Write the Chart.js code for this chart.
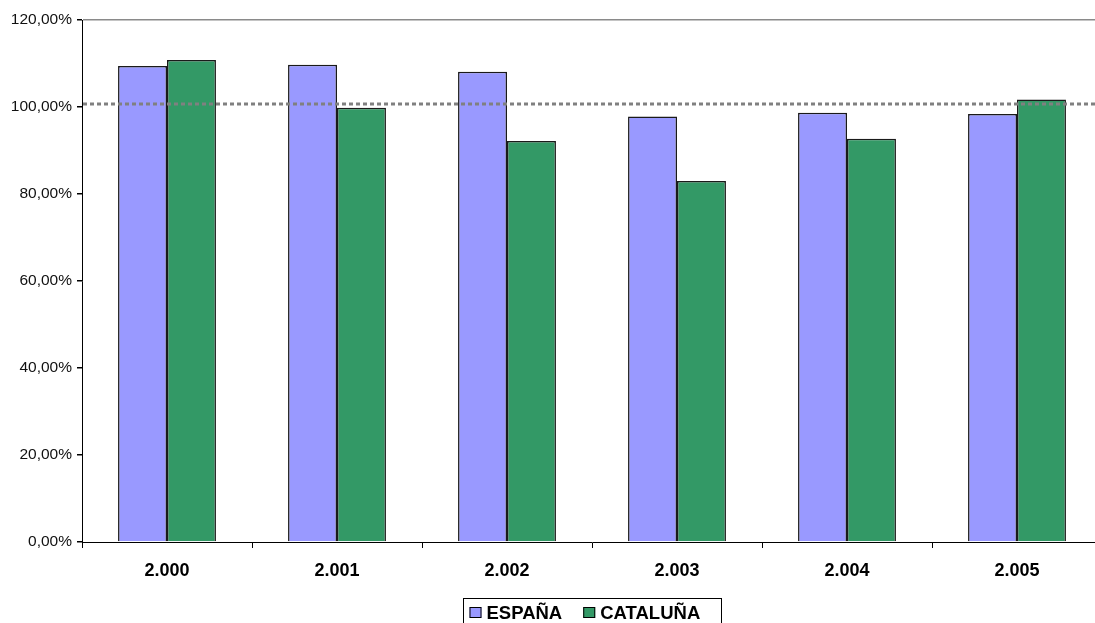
<!DOCTYPE html>
<html>
<head>
<meta charset="utf-8">
<title>España vs Cataluña</title>
<script src="https://cdn.jsdelivr.net/npm/chart.js@4/dist/chart.umd.min.js"></script>
<style>
    html, body { margin: 0; padding: 0; background: #fff; overflow: hidden; }
    #wrap { width: 1110px; height: 640px; }
</style>
</head>
<body>
<div id="wrap"><canvas id="ratioChart" width="1110" height="640"></canvas></div>
<script>
// Data
const years = ['2.000', '2.001', '2.002', '2.003', '2.004', '2.005'];
const espana = [109.4, 109.7, 108.1, 97.8, 98.7, 98.4];
const cataluna = [110.8, 99.8, 92.2, 83.0, 92.7, 101.7];
const yTickLabels = ['0,00%', '20,00%', '40,00%', '60,00%', '80,00%', '100,00%', '120,00%'];
const referenceLevel = 100.7;

const FONT = "'Liberation Sans', Arial, sans-serif";

// Dotted reference line across the plot
const refLinePlugin = {
    id: 'refLine',
    afterDatasetsDraw(chart) {
        const { ctx, chartArea, scales } = chart;
        const y = scales.y.getPixelForValue(referenceLevel);
        ctx.save();
        ctx.strokeStyle = '#808080';
        ctx.lineWidth = 3;
        ctx.setLineDash([4, 3]);
        ctx.beginPath();
        ctx.moveTo(chartArea.left + 1, y);
        ctx.lineTo(chartArea.right, y);
        ctx.stroke();
        ctx.restore();
    }
};

// Boxed legend under the axis
const boxLegendPlugin = {
    id: 'boxLegend',
    afterDraw(chart) {
        const { ctx, chartArea } = chart;
        const boxWidth = 258;
        const left = Math.round((chartArea.left + chartArea.right) / 2 - boxWidth / 2) + 0.5;
        const top = 598.5;
        ctx.save();
        ctx.strokeStyle = '#000';
        ctx.lineWidth = 1;
        ctx.strokeRect(left, top, boxWidth, 60);

        ctx.font = 'bold 18.5px ' + FONT;
        ctx.textBaseline = 'alphabetic';
        let x = left + 6;
        chart.data.datasets.forEach(ds => {
            ctx.fillStyle = ds.backgroundColor;
            ctx.fillRect(x, 607, 12, 11);
            ctx.strokeStyle = '#000';
            ctx.strokeRect(x + 0.5, 607.5, 11, 10);
            x += 17;
            ctx.fillStyle = '#000';
            ctx.fillText(ds.label, x, 619);
            x += ctx.measureText(ds.label).width + 21;
        });
        ctx.restore();
    }
};

function initializeChart() {
    const ctx = document.getElementById('ratioChart').getContext('2d');
    return new Chart(ctx, {
        type: 'bar',
        data: {
            labels: years,
            datasets: [{
                label: 'ESPAÑA',
                data: espana,
                backgroundColor: '#9999FF',
                borderColor: '#1a1a1a',
                borderWidth: 1.5
            }, {
                label: 'CATALUÑA',
                data: cataluna,
                backgroundColor: '#339966',
                borderColor: '#1a1a1a',
                borderWidth: 1.5
            }]
        },
        options: {
            responsive: false,
            animation: false,
            devicePixelRatio: 1,
            layout: { padding: { top: 20, right: 8, left: 0, bottom: 0 } },
            datasets: {
                bar: { categoryPercentage: 0.576, barPercentage: 1 }
            },
            plugins: {
                legend: { display: false },
                tooltip: { enabled: false }
            },
            scales: {
                x: {
                    offset: true,
                    afterFit: scale => { scale.height = 98; },
                    grid: {
                        offset: true,
                        drawOnChartArea: false,
                        tickLength: 6,
                        tickColor: '#000'
                    },
                    border: { color: '#000', width: 1 },
                    ticks: {
                        color: '#000',
                        padding: 12,
                        maxRotation: 0,
                        font: { family: FONT, size: 18, weight: 'bold' }
                    }
                },
                y: {
                    min: 0,
                    max: 120,
                    afterFit: scale => { scale.width = 82; },
                    grid: {
                        color: c => (c.tick && c.tick.value === 120 ? '#8a8a8a' : 'rgba(0,0,0,0)'),
                        lineWidth: 1.5,
                        tickLength: 5,
                        tickColor: '#000'
                    },
                    border: { color: '#000', width: 1 },
                    ticks: {
                        stepSize: 20,
                        padding: 5,
                        color: '#111',
                        font: { family: FONT, size: 15.5 },
                        callback: (value, index) => yTickLabels[index]
                    }
                }
            }
        },
        plugins: [refLinePlugin, boxLegendPlugin]
    });
}

initializeChart();
</script>
</body>
</html>
